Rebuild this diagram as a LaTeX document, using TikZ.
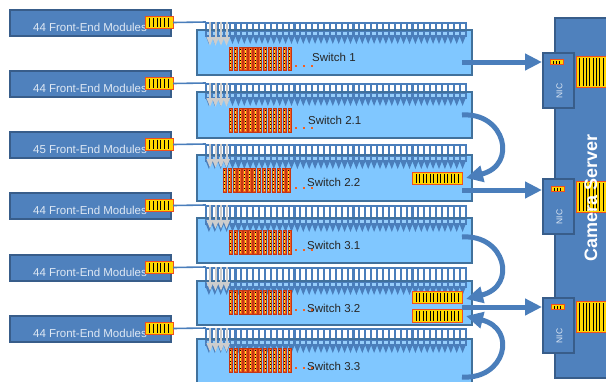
\documentclass[tikz,border=0pt]{standalone}
\usepackage{fontspec}
\setmainfont{Liberation Sans}
\usetikzlibrary{arrows.meta}
\definecolor{femfill}{RGB}{79,129,189}
\definecolor{femborder}{RGB}{56,93,138}
\definecolor{swfill}{RGB}{128,199,255}
\definecolor{swborder}{RGB}{65,113,156}
\definecolor{combblue}{RGB}{74,126,187}
\definecolor{slotlight}{RGB}{150,205,250}
\definecolor{arrowblue}{RGB}{74,126,187}
\definecolor{chiporange}{RGB}{245,95,30}
\definecolor{chipedge}{RGB}{195,55,20}
\definecolor{connyellow}{RGB}{255,215,0}
\definecolor{connedge}{RGB}{240,80,30}
\definecolor{femtextc}{RGB}{222,232,244}
\definecolor{graypin}{RGB}{205,205,205}
\definecolor{chipyellow}{RGB}{255,220,40}

\tikzset{
  fembox/.style={draw=femborder, fill=femfill, line width=2pt, minimum width=161pt, minimum height=26pt, inner sep=0pt},
  femtext/.style={text=femtextc, font=\fontsize{11.5}{13}\selectfont, inner sep=0pt},
  swbox/.style={draw=swborder, fill=swfill, line width=2.4pt, inner sep=0pt},
  swlabel/.style={text=black!85, font=\fontsize{11.5}{13}\selectfont, inner sep=0pt, anchor=west},
  yconnbox/.style={fill=connyellow, inner sep=0pt},
  femline/.style={draw=combblue, line width=1.6pt},
  pinarrow/.style={draw=graypin, line width=2pt, -{Triangle[length=9pt,width=6.5pt]}},
  bigarrow/.style={draw=arrowblue, line width=5pt, -{Triangle[length=17pt,width=16pt]}},
  serverbox/.style={draw=femborder, fill=femfill, line width=2.4pt, inner sep=0pt},
  nicbox/.style={draw=femborder, fill=femfill, line width=2pt, inner sep=0pt},
  nictext/.style={text=femtextc, font=\fontsize{8.5}{10}\selectfont, inner sep=0pt, rotate=90},
  servertext/.style={text=white, font=\fontsize{18}{20}\selectfont\bfseries, inner sep=0pt, rotate=90},
}

% striped yellow connector: name, x1, y1, x2, y2, pitch
\newcommand{\yconn}[6]{%
  \node[yconnbox, minimum width={(#4)-(#2)}, minimum height={(#5)-(#3)}] (#1) at ({((#2)+(#4))/2},{((#3)+(#5))/2}) {};
  \pgfmathtruncatemacro{\nst}{((#4)-(#2)-2)/(#6)}
  \foreach \k in {1,...,\nst} {
    \pgfmathsetmacro{\stx}{(#2)+\k*(#6)-0.4}
    \draw[black, line width=0.9pt] (\stx,{(#3)+0.8}) -- (\stx,{(#5)-0.8});
  }
  \draw[connedge, line width=1.1pt] (#1.south west) rectangle (#1.north east);
}

% switch body: name, comb top, box top, box bottom, bar top, bar bottom, bar x, number of bars
\newcommand{\switchunit}[8]{%
  \fill[combblue] (205,#2) rectangle (467,{#3+3});
  \node[swbox, minimum width=275pt, minimum height={(#4)-(#3)}] (#1) at (334.5,{((#3)+(#4))/2}) {};
  \fill[combblue] (205,{#3+1}) rectangle (467,{#3+7});
  \foreach \i in {0,...,43} {
    \pgfmathsetmacro{\sx}{207+5.9*\i}
    \fill[white] (\sx,{#2+1.6}) rectangle ({\sx+3.8},{#3-1.3});
    \fill[slotlight] (\sx,{#3+1.6}) rectangle ({\sx+3.8},{#3+5.4});
    \fill[combblue] ({\sx-1.05},{#3+6.5}) -- ({\sx+4.85},{#3+6.5}) -- ({\sx+1.9},{#3+14}) -- cycle;
  }
  \foreach \k in {1,...,#8} {
    \pgfmathsetmacro{\bx}{(#7)+4.9*(\k-1)}
    \filldraw[fill=chiporange, draw=chipedge, line width=0.5pt] (\bx,#5) rectangle ({\bx+3.3},#6);
    \draw[chipyellow, line width=0.7pt] ({\bx+1.65},{#5+1.5}) -- ({\bx+1.65},{#6-1.5});
    \draw[black, line width=0.7pt, dash pattern=on 1pt off 2.6pt] ({\bx+1.65},{#5+2}) -- ({\bx+1.65},{#6-1.5});
  }
  \foreach \dx in {296,304,312} {
    \fill[chiporange] ({\dx-1.2},{#6-5.2}) rectangle ({\dx+1.2},{#6-2.8});
  }
  \foreach \gx in {210,215.5,221,226.5} {
    \draw[pinarrow] (\gx,#2) -- (\gx,{#2+24});
  }
}

\begin{document}
\begin{tikzpicture}[x=1pt,y=-1pt]
\useasboundingbox (0,0) rectangle (606,381);
\clip (0,0) rectangle (606,381);

% switches
\switchunit{sw1}{22}{30}{75}{47}{70}{229}{13}
\switchunit{sw21}{83}{92}{138}{108}{132}{229}{13}
\switchunit{sw22}{144}{155}{201}{168}{192}{223}{14}
\switchunit{sw31}{205}{218}{263}{230}{254}{229}{13}
\switchunit{sw32}{267}{281}{325}{290}{314}{229}{13}
\switchunit{sw33}{328}{339}{388}{348}{372}{229}{13}

\node[swlabel] (l1) at (312,57) {Switch 1};
\node[swlabel] (l21) at (308,120) {Switch 2.1};
\node[swlabel] (l22) at (307,182) {Switch 2.2};
\node[swlabel] (l31) at (307,245) {Switch 3.1};
\node[swlabel] (l32) at (307,308) {Switch 3.2};
\node[swlabel] (l33) at (307,366) {Switch 3.3};

% switch uplink connectors
\yconn{p22}{413}{173}{462}{184}{3.5}
\yconn{p32a}{413}{292}{462}{303}{3.5}
\yconn{p32b}{413}{310}{462}{322}{3.5}

% front-end module boxes
\foreach \n/\cy/\lab in {1/22/44, 2/83/44, 3/144/45, 4/205/44, 5/267/44, 6/328/44} {
  \node[fembox] (fem\n) at (90,{\cy+0.5}) {};
  \node[femtext] (femt\n) at (90,{\cy+5}) {\lab{} Front-End Modules};
  \yconn{fc\n}{146}{\cy-5}{173}{\cy+6}{3.8}
  \coordinate (cm\n) at (206,\cy);
  \draw[femline] (fc\n.east) -- (cm\n);
}

% camera server
\node[serverbox, minimum width=60pt, minimum height=360pt] (server) at (585,198) {};
\node[nicbox, minimum width=31pt, minimum height=55pt] (nic1) at (558.5,80.5) {};
\node[nicbox, minimum width=31pt, minimum height=55pt] (nic2) at (558.5,206.5) {};
\node[nicbox, minimum width=31pt, minimum height=55pt] (nic3) at (558.5,325.5) {};
\node[nictext] (nict1) at (559.5,91) {NIC};
\node[nictext] (nict2) at (559.5,217) {NIC};
\node[nictext] (nict3) at (559.5,336) {NIC};
\yconn{nc1}{551}{60}{563}{64.5}{3}
\yconn{nc2}{552}{187}{564}{191.5}{3}
\yconn{nc3}{552}{305}{564}{309.5}{3}
\yconn{sc1}{577}{57}{612}{87}{3.3}
\yconn{sc2}{577}{182}{612}{212}{3.3}
\yconn{sc3}{577}{302}{612}{332}{3.3}
\node[servertext] (servert) at (591,198) {Camera Server};

% uplinks
\coordinate (o1) at (462,62);
\coordinate (o22) at (462,190);
\coordinate (o32) at (462,307);
\draw[bigarrow] (o1) -- (o1 -| nic1.west);
\draw[bigarrow] (o22) -- (o22 -| nic2.west);
\draw[bigarrow] (o32) -- (o32 -| nic3.west);

% switch-to-switch links
\coordinate (c21) at (462,115);
\coordinate (c22) at (466,178);
\coordinate (c31) at (462,237);
\coordinate (c32a) at (466,299);
\coordinate (c33) at (462,377);
\coordinate (c32b) at (466,316);
\draw[bigarrow] (c21) .. controls (505,112) and (518,165) .. (c22);
\draw[bigarrow] (c31) .. controls (505,234) and (518,286) .. (c32a);
\draw[bigarrow] (c33) .. controls (505,380) and (518,329) .. (c32b);
\end{tikzpicture}
\end{document}
